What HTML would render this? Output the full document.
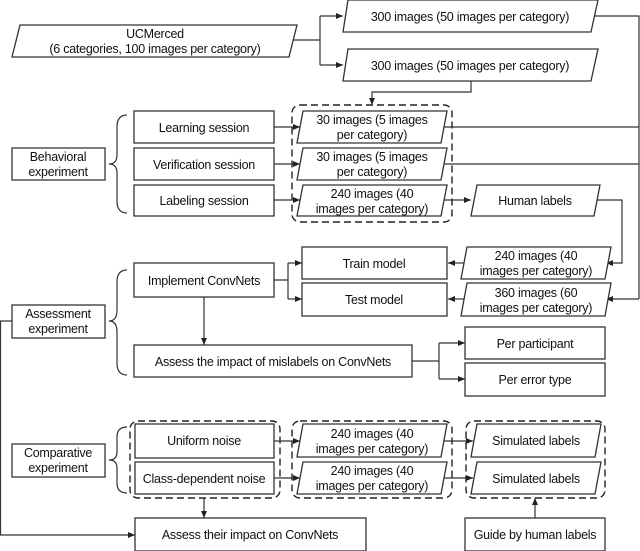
<!DOCTYPE html>
<html><head><meta charset="utf-8"><style>
html,body{margin:0;padding:0;background:#fff;}
svg{display:block;}
text{font-family:"Liberation Sans",Arial,sans-serif;font-size:12.5px;letter-spacing:-0.25px;fill:#111;text-anchor:middle;}
.b{fill:#fff;stroke:#333;stroke-width:1.3;}
.l{fill:none;stroke:#333;stroke-width:1.2;}
.d{fill:none;stroke:#222;stroke-width:1.4;stroke-dasharray:7,4;}
</style></head><body>
<svg width="640" height="551" viewBox="0 0 640 551">
<defs><marker id="a" markerWidth="8" markerHeight="8" refX="7" refY="4" orient="auto" markerUnits="userSpaceOnUse"><path d="M0,1 L7,4 L0,7 z" fill="#222"/></marker></defs>

<rect class="d" x="292" y="105" width="160" height="117" rx="8"/>
<rect class="d" x="130" y="421" width="150" height="77" rx="8"/>
<rect class="d" x="292" y="421" width="160" height="77" rx="8"/>
<rect class="d" x="466" y="421" width="139" height="77" rx="8"/>

<path class="l" d="M293,40 H320 M320,16 V65"/>
<path class="l" d="M320,16 H343" marker-end="url(#a)"/>
<path class="l" d="M320,65 H343" marker-end="url(#a)"/>
<path class="l" d="M471,81 V92 H372 V105" marker-end="url(#a)"/>
<path class="l" d="M595,16 H639 V299"/>
<path class="l" d="M443,127 H639 M443,164 H639"/>
<path class="l" d="M639,299 H606" marker-end="url(#a)"/>
<path class="l" d="M274,127 H300" marker-end="url(#a)"/>
<path class="l" d="M274,164 H300" marker-end="url(#a)"/>
<path class="l" d="M274,200 H300" marker-end="url(#a)"/>
<path class="l" d="M443,200 H471" marker-end="url(#a)"/>
<path class="l" d="M597,200 H622 V263 H606" marker-end="url(#a)"/>
<path class="l" d="M464,263 H448" marker-end="url(#a)"/>
<path class="l" d="M464,299 H448" marker-end="url(#a)"/>
<path class="l" d="M274,280 H288 M288,263 V299"/>
<path class="l" d="M288,263 H302" marker-end="url(#a)"/>
<path class="l" d="M288,299 H302" marker-end="url(#a)"/>
<path class="l" d="M204,297 V345" marker-end="url(#a)"/>
<path class="l" d="M412,361 H439 M439,343 V379"/>
<path class="l" d="M439,343 H465" marker-end="url(#a)"/>
<path class="l" d="M439,379 H465" marker-end="url(#a)"/>
<path class="l" d="M274,441 H300" marker-end="url(#a)"/>
<path class="l" d="M274,478 H300" marker-end="url(#a)"/>
<path class="l" d="M443,441 H473" marker-end="url(#a)"/>
<path class="l" d="M443,478 H473" marker-end="url(#a)"/>
<path class="l" d="M204,498 V518" marker-end="url(#a)"/>
<path class="l" d="M12,321 H0.5 V535 H135" marker-end="url(#a)"/>
<path class="l" d="M535,518 V498" marker-end="url(#a)"/>

<path class="l" d="M127,115 Q117,115 117,127 V155 Q117,164 109,164 Q117,164 117,173 V201 Q117,213 127,213"/>
<path class="l" d="M127,270 Q117,270 117,282 V310 Q117,321 109,321 Q117,321 117,332 V363 Q117,375 127,375"/>
<path class="l" d="M127,427 Q117,427 117,437 V452 Q117,460 109,460 Q117,460 117,468 V483 Q117,493 127,493"/>

<polygon class="b" points="20,25 297,25 289,57 12,57"/>
<text x="155" y="38">UCMerced</text><text x="155" y="53">(6 categories, 100 images per category)</text>
<polygon class="b" points="348,0 598,0 591,32 343,32"/><text x="470" y="21">300 images (50 images per category)</text>
<polygon class="b" points="348,49 598,49 591,81 343,81"/><text x="470" y="70">300 images (50 images per category)</text>

<polygon class="b" points="303,111 447,111 441,143 297,143"/><text x="372" y="124">30 images (5 images</text><text x="372" y="139">per category)</text>
<polygon class="b" points="303,148 447,148 441,180 297,180"/><text x="372" y="161">30 images (5 images</text><text x="372" y="176">per category)</text>
<polygon class="b" points="303,185 447,185 441,216 297,216"/><text x="372" y="198">240 images (40</text><text x="372" y="213">images per category)</text>
<polygon class="b" points="477,185 600,185 594,216 471,216"/><text x="535" y="205">Human labels</text>

<polygon class="b" points="467,247 611,247 605,279 461,279"/><text x="536" y="260">240 images (40</text><text x="536" y="275">images per category)</text>
<polygon class="b" points="467,283 611,283 605,316 461,316"/><text x="536" y="297">360 images (60</text><text x="536" y="312">images per category)</text>

<polygon class="b" points="303,424 447,424 441,457 297,457"/><text x="372" y="438">240 images (40</text><text x="372" y="453">images per category)</text>
<polygon class="b" points="303,462 447,462 441,494 297,494"/><text x="372" y="475">240 images (40</text><text x="372" y="490">images per category)</text>
<polygon class="b" points="477,424 601,424 595,457 471,457"/><text x="536" y="445">Simulated labels</text>
<polygon class="b" points="477,462 601,462 595,494 471,494"/><text x="536" y="483">Simulated labels</text>

<rect class="b" x="12" y="148" width="93" height="32"/><text x="58" y="161">Behavioral</text><text x="58" y="176">experiment</text>
<rect class="b" x="134" y="111" width="140" height="32"/><text x="204" y="132">Learning session</text>
<rect class="b" x="134" y="148" width="140" height="32"/><text x="204" y="169">Verification session</text>
<rect class="b" x="134" y="185" width="140" height="31"/><text x="204" y="205">Labeling session</text>

<rect class="b" x="302" y="247" width="145" height="32"/><text x="374" y="268">Train model</text>
<rect class="b" x="302" y="283" width="145" height="33"/><text x="374" y="304">Test model</text>
<rect class="b" x="134" y="263" width="140" height="34"/><text x="204" y="285">Implement ConvNets</text>
<rect class="b" x="12" y="305" width="93" height="33"/><text x="58" y="318">Assessment</text><text x="58" y="333">experiment</text>
<rect class="b" x="134" y="345" width="278" height="32"/><text x="273" y="366">Assess the impact of mislabels on ConvNets</text>
<rect class="b" x="465" y="327" width="140" height="32"/><text x="535" y="348">Per participant</text>
<rect class="b" x="465" y="363" width="140" height="33"/><text x="535" y="384">Per error type</text>

<rect class="b" x="12" y="444" width="93" height="33"/><text x="58" y="457">Comparative</text><text x="58" y="472">experiment</text>
<rect class="b" x="135" y="424" width="139" height="34"/><text x="204" y="445">Uniform noise</text>
<rect class="b" x="135" y="462" width="139" height="32"/><text x="204" y="483">Class-dependent noise</text>
<rect class="b" x="135" y="518" width="231" height="33"/><text x="250" y="539">Assess their impact on ConvNets</text>
<rect class="b" x="465" y="518" width="140" height="33"/><text x="535" y="539">Guide by human labels</text>
</svg>
</body></html>
